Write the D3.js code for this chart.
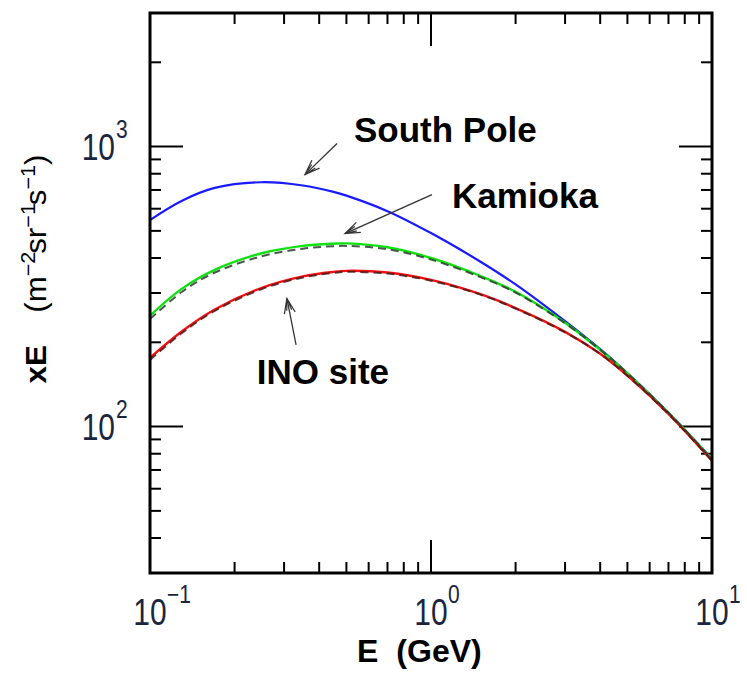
<!DOCTYPE html>
<html>
<head>
<meta charset="utf-8">
<script src="https://cdn.jsdelivr.net/npm/d3@7"></script>
<style>
  body { margin: 0; background: #fff; }
  svg { display: block; font-family: "Liberation Sans", Arial, sans-serif; }
</style>
</head>
<body>
<div id="chart"></div>
<script>
// Energy grid (GeV) and flux curves xE (m^-2 sr^-1 s^-1)
const energy     = [0.1, 0.13, 0.17, 0.25, 0.35, 0.45, 0.5, 0.7, 1.0, 1.5, 2, 3, 4, 5, 7, 10];
const southPole  = [547, 641, 712, 746, 726, 689, 668, 588, 491, 388, 322, 238, 189, 155, 112, 76.5];
const kamioka    = [249, 311, 363, 416, 442, 450, 451, 437, 400, 345, 303, 235, 188, 155, 112, 76.5];
const kamiokaAlt = [242, 303, 355, 406, 432, 441, 442, 430, 395, 342, 301, 234, 188, 155, 112, 76.4];
const inoSite    = [176, 219, 262, 313, 344, 357, 360, 355, 334, 297, 265, 218, 182, 152, 111, 75.5];
const inoSiteAlt = [173, 216, 259, 310, 341, 354, 357, 352, 332, 296, 264, 217, 182, 152, 111, 75.5];

// Tick labels (powers of ten)
const xMajor = [0.1, 1, 10];
const xExponents = ["\u22121", "0", "1"];
const yMajor = [100, 1000];
const yExponents = ["2", "3"];

// Annotation labels and arrows, in data units
const annoLabels = ["South Pole", "Kamioka", "INO site"];
const annoLabelE = [0.532, 1.188, 0.240];
const annoLabelV = [1042, 605, 142.5];
const arrowFromE = [0.463, 1.008, 0.331];
const arrowFromV = [1025, 674, 196];
const arrowToE   = [0.356, 0.494, 0.307];
const arrowToV   = [794, 489, 287];

const width = 747, height = 680;
const margin = { top: 13, right: 35, bottom: 107, left: 150 };

const svg = d3.select("#chart").append("svg")
  .attr("width", width)
  .attr("height", height);

const x = d3.scaleLog().domain([0.1, 10]).range([margin.left, width - margin.right]);
const y = d3.scaleLog().domain([30, 3000]).range([height - margin.bottom, margin.top]);

const isMajor = (v) => Math.abs(Math.log10(v) - Math.round(Math.log10(v))) < 1e-6;

const defs = svg.append("defs");

// clip for curves
defs.append("clipPath").attr("id", "plotclip")
  .append("rect")
  .attr("x", x.range()[0]).attr("y", y.range()[1])
  .attr("width", x.range()[1] - x.range()[0])
  .attr("height", y.range()[0] - y.range()[1]);

// open double-stroke arrow head
defs.append("marker")
  .attr("id", "head")
  .attr("markerUnits", "userSpaceOnUse")
  .attr("orient", "auto")
  .attr("viewBox", "-17 -8 19 16")
  .attr("refX", 0).attr("refY", 0)
  .attr("markerWidth", 19).attr("markerHeight", 16)
  .append("path")
  .attr("d", "M-15,-5.5L0,0L-15,5.5M-12,-2.5L0,0L-12,2.5")
  .attr("fill", "none")
  .attr("stroke", "#333")
  .attr("stroke-width", 1.2);

// --- ticks (inside, on all four sides) ---
const xTicks = x.ticks();
const yTicks = y.ticks();
const tickLen = (v) => (isMajor(v) ? 33 : 11);

// bottom & top
[[y.range()[0], 1], [y.range()[1], -1]].forEach(([yy, dir]) => {
  svg.append("g").selectAll("line").data(xTicks).enter().append("line")
    .attr("x1", (d) => x(d)).attr("x2", (d) => x(d))
    .attr("y1", yy).attr("y2", (d) => yy - dir * tickLen(d))
    .attr("stroke", "#000").attr("stroke-width", 2);
});
// left & right
[[x.range()[0], 1], [x.range()[1], -1]].forEach(([xx, dir]) => {
  svg.append("g").selectAll("line").data(yTicks).enter().append("line")
    .attr("y1", (d) => y(d)).attr("y2", (d) => y(d))
    .attr("x1", xx).attr("x2", (d) => xx + dir * tickLen(d))
    .attr("stroke", "#000").attr("stroke-width", 2);
});

// --- curves ---
const line = (vals) => d3.line()
  .x((d, i) => x(energy[i]))
  .y((d) => y(d))
  .curve(d3.curveCatmullRom.alpha(0.5))(vals);

const plot = svg.append("g").attr("clip-path", "url(#plotclip)");

const series = [
  { vals: southPole, color: "#1a1aff", dash: null, w: 2.2 },
  { vals: kamioka, color: "#10e010", dash: null, w: 2.4 },
  { vals: inoSite, color: "#f01010", dash: null, w: 2.4 },
  { vals: kamiokaAlt, color: "#2b3b2b", dash: "8,5", w: 2 },
  { vals: inoSiteAlt, color: "#4a1a1a", dash: "8,5", w: 2 }
];

plot.selectAll("path.curve").data(series).enter().append("path")
  .attr("class", "curve")
  .attr("d", (d) => line(d.vals))
  .attr("fill", "none")
  .attr("stroke", (d) => d.color)
  .attr("stroke-width", (d) => d.w)
  .attr("stroke-dasharray", (d) => d.dash)
  .attr("opacity", (d) => (d.dash ? 0.85 : 1));

// --- frame ---
svg.append("rect")
  .attr("x", x.range()[0]).attr("y", y.range()[1])
  .attr("width", x.range()[1] - x.range()[0])
  .attr("height", y.range()[0] - y.range()[1])
  .attr("fill", "none")
  .attr("stroke", "#000")
  .attr("stroke-width", 3);

// --- tick labels ---
const labelColor = "#1b2540";
const xl = svg.append("g").attr("fill", labelColor);
xMajor.forEach((v, i) => {
  xl.append("text")
    .attr("transform", `translate(${x(v)},${y.range()[0] + 52}) scale(1,1.2)`)
    .attr("text-anchor", "middle")
    .style("font-size", "30px")
    .text("10");
  xl.append("text")
    .attr("transform", `translate(${x(v) + 17},${y.range()[0] + 30}) scale(1,1.2)`)
    .attr("text-anchor", "start")
    .style("font-size", "21px")
    .text(xExponents[i]);
});

const yl = svg.append("g").attr("fill", labelColor);
yMajor.forEach((v, i) => {
  yl.append("text")
    .attr("transform", `translate(${x.range()[0] - 35},${y(v) + 13}) scale(1,1.2)`)
    .attr("text-anchor", "end")
    .style("font-size", "30px")
    .text("10");
  yl.append("text")
    .attr("transform", `translate(${x.range()[0] - 34},${y(v) - 9}) scale(1,1.2)`)
    .attr("text-anchor", "start")
    .style("font-size", "21px")
    .text(yExponents[i]);
});

// --- axis titles ---
const xt = svg.append("text")
  .attr("x", 357).attr("y", 662)
  .attr("fill", "#000")
  .style("font-size", "32px")
  .style("font-weight", "bold");
xt.append("tspan").text("E");
xt.append("tspan").attr("dx", 18).text("(GeV)");

const yt = svg.append("text")
  .attr("transform", "translate(46,269) rotate(-90) scale(1.08,1)")
  .attr("text-anchor", "middle")
  .attr("fill", "#000")
  .style("font-size", "29px");
yt.append("tspan").style("font-weight", "bold").text("xE");
yt.append("tspan").attr("dx", 30).text("(m");
yt.append("tspan").attr("dy", -11).style("font-size", "20px").text("\u22122");
yt.append("tspan").attr("dy", 11).attr("dx", -2).text("sr");
yt.append("tspan").attr("dy", -11).style("font-size", "20px").text("\u22121");
yt.append("tspan").attr("dy", 11).attr("dx", -2).text("s");
yt.append("tspan").attr("dy", -11).style("font-size", "20px").text("\u22121");
yt.append("tspan").attr("dy", 11).text(")");

// --- annotations ---
const anno = svg.append("g");
anno.selectAll("line").data(annoLabels).enter().append("line")
  .attr("x1", (d, i) => x(arrowFromE[i])).attr("y1", (d, i) => y(arrowFromV[i]))
  .attr("x2", (d, i) => x(arrowToE[i])).attr("y2", (d, i) => y(arrowToV[i]))
  .attr("stroke", "#333")
  .attr("stroke-width", 1.3)
  .attr("marker-end", "url(#head)");

anno.selectAll("text").data(annoLabels).enter().append("text")
  .attr("x", (d, i) => x(annoLabelE[i]))
  .attr("y", (d, i) => y(annoLabelV[i]))
  .attr("fill", "#000")
  .style("font-size", "35px")
  .style("font-weight", "bold")
  .text((d) => d);
</script>
</body>
</html>
